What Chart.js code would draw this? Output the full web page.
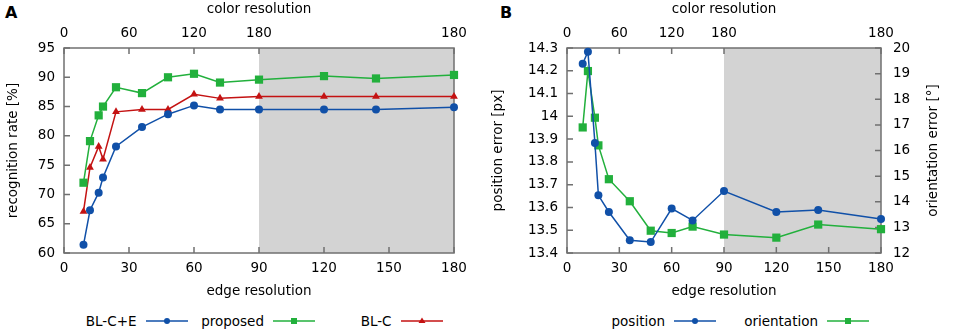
<!DOCTYPE html>
<html>
<head>
<meta charset="utf-8">
<script src="https://cdn.jsdelivr.net/npm/chart.js@4/dist/chart.umd.min.js"></script>
<style>
  body { margin: 0; background: #fff; font-family: 'DejaVu Sans', sans-serif; }
  #page { position: relative; width: 965px; height: 335px; overflow: hidden; }
  .panel { position: absolute; top: 0; }
  .tag { position: absolute; font-weight: bold; font-size: 16px; }
  .legend { position: absolute; top: 313px; display: flex; font-size: 13.5px; }
  .legend .item { display: flex; align-items: center; }
  .legend .txt { text-align: right; flex: 1; padding-right: 9px; }
</style>
</head>
<body>
<div id="page">
  <div class="tag" style="left:5px;top:3px">A</div>
  <div class="tag" style="left:500px;top:3px">B</div>
  <canvas class="panel" id="chartA" width="480" height="300" style="left:0"></canvas>
  <canvas class="panel" id="chartB" width="485" height="300" style="left:480px"></canvas>
  <div class="legend" id="legendA" style="left:60px"></div>
  <div class="legend" id="legendB" style="left:563px"></div>
</div>
<script>
// x waarden (edge resolution) en de bovenste as (color resolution)
const edgeRes = [9, 12, 16, 18, 24, 36, 48, 60, 72, 90, 120, 144, 180];
const colorTickPos = [0, 30, 60, 90, 180];
const colorTickLabels = ['0', '60', '120', '180', '180'];
const shadeRange = [90, 180];

// paneel A: recognition rate [%]
const blCE = [61.4, 67.3, 70.3, 72.9, 78.2, 81.5, 83.7, 85.2, 84.5, 84.5, 84.5, 84.5, 84.9];
const proposed = [72.0, 79.1, 83.5, 85.0, 88.3, 87.3, 90.0, 90.6, 89.1, 89.6, 90.2, 89.8, 90.4];
const blC = [67.1, 74.6, 78.2, 76.0, 84.1, 84.5, 84.5, 87.1, 86.4, 86.7, 86.7, 86.7, 86.7];

// paneel B: position error [px] en orientation error [°]
const positionErr = [14.231, 14.284, 13.883, 13.653, 13.58, 13.456, 13.448, 13.595, 13.543, 13.672, 13.58, 13.589, 13.549];
const orientationErr = [16.9, 19.1, 17.28, 16.2, 14.88, 14.02, 12.87, 12.78, 13.03, 12.72, 12.6, 13.11, 12.93];

const BLUE = '#1050a8', GREEN = '#22b03c', RED = '#c41212';
const FRAME = '#707070';

Chart.defaults.font.family = "'DejaVu Sans', sans-serif";
Chart.defaults.font.size = 13.5;
Chart.defaults.color = '#000';

function pts(values) {
  return edgeRes.map((x, i) => ({ x: x, y: values[i] }));
}

function series(label, values, color, style, radius, axis) {
  return {
    label: label,
    data: pts(values),
    borderColor: color,
    backgroundColor: color,
    borderWidth: 1.5,
    pointStyle: style,
    pointRadius: radius,
    pointHoverRadius: radius,
    pointBorderWidth: 0,
    tension: 0,
    clip: false,
    yAxisID: axis || 'y'
  };
}

// grijs vlak, kader en gnuplot-achtige tickjes naar binnen
const framePlugin = {
  id: 'frame',
  beforeDatasetsDraw(chart) {
    const { ctx, chartArea: a, scales } = chart;
    const x0 = scales.x.getPixelForValue(shadeRange[0]);
    const x1 = scales.x.getPixelForValue(shadeRange[1]);
    ctx.save();
    ctx.fillStyle = '#d3d3d3';
    ctx.fillRect(x0, a.top, x1 - x0, a.bottom - a.top);
    ctx.strokeStyle = FRAME;
    ctx.lineWidth = 1.5;
    ctx.beginPath();
    const len = 6;
    scales.x.ticks.forEach(t => {
      const p = scales.x.getPixelForValue(t.value);
      ctx.moveTo(p, a.bottom); ctx.lineTo(p, a.bottom - len);
    });
    scales.x2.ticks.forEach(t => {
      const p = scales.x2.getPixelForValue(t.value);
      ctx.moveTo(p, a.top); ctx.lineTo(p, a.top + len);
    });
    scales.y.ticks.forEach(t => {
      const p = scales.y.getPixelForValue(t.value);
      ctx.moveTo(a.left, p); ctx.lineTo(a.left + len, p);
    });
    if (scales.y2) {
      scales.y2.ticks.forEach(t => {
        const p = scales.y2.getPixelForValue(t.value);
        ctx.moveTo(a.right, p); ctx.lineTo(a.right - len, p);
      });
    }
    ctx.stroke();
    ctx.strokeRect(a.left, a.top, a.right - a.left, a.bottom - a.top);
    ctx.restore();
  },
  afterDraw(chart, args, opts) {
    if (!opts.rightTitle) return;
    const { ctx, chartArea: a } = chart;
    ctx.save();
    ctx.font = "13.5px 'DejaVu Sans', sans-serif";
    ctx.fillStyle = '#000';
    ctx.textAlign = 'center';
    ctx.textBaseline = 'middle';
    ctx.translate(chart.width - 32, (a.top + a.bottom) / 2);
    ctx.rotate(-Math.PI / 2);
    ctx.fillText(opts.rightTitle, 0, 0);
    ctx.restore();
  }
};

function xScales() {
  return {
    x: {
      type: 'linear', position: 'bottom', min: 0, max: 180,
      grid: { display: false, drawTicks: false }, border: { display: false },
      ticks: { stepSize: 30, padding: 7, autoSkip: false, maxRotation: 0 },
      title: { display: true, text: 'edge resolution', padding: { top: 3, bottom: 0 } },
      afterFit: s => { s.height = 47; s.paddingLeft = 0; s.paddingRight = 0; }
    },
    x2: {
      type: 'linear', position: 'top', min: 0, max: 180,
      grid: { display: false, drawTicks: false }, border: { display: false },
      afterBuildTicks: s => { s.ticks = colorTickPos.map(v => ({ value: v })); },
      ticks: { padding: 6, autoSkip: false, maxRotation: 0, callback: (v, i) => colorTickLabels[i] },
      title: { display: true, text: 'color resolution', padding: { top: 1, bottom: 0 } },
      afterFit: s => { s.height = 48; s.paddingLeft = 0; s.paddingRight = 0; }
    }
  };
}

const chartA = new Chart(document.getElementById('chartA'), {
  type: 'line',
  data: {
    datasets: [
      series('BL-C+E', blCE, BLUE, 'circle', 4),
      series('proposed', proposed, GREEN, 'rect', 5.8),
      series('BL-C', blC, RED, 'triangle', 4.5)
    ]
  },
  options: {
    responsive: false,
    animation: false,
    layout: { padding: { left: 0, right: 26, top: 0, bottom: 0 } },
    plugins: { legend: { display: false }, tooltip: { enabled: false } },
    scales: Object.assign(xScales(), {
      y: {
        min: 60, max: 95,
        grid: { display: false, drawTicks: false }, border: { display: false },
        ticks: { stepSize: 5, padding: 9 },
        title: { display: true, text: 'recognition rate [%]', padding: { top: 5, bottom: 0 } },
        afterFit: s => { s.width = 64; }
      }
    })
  },
  plugins: [framePlugin]
});

const chartB = new Chart(document.getElementById('chartB'), {
  type: 'line',
  data: {
    datasets: [
      series('position', positionErr, BLUE, 'circle', 4),
      series('orientation', orientationErr, GREEN, 'rect', 5.8, 'y2')
    ]
  },
  options: {
    responsive: false,
    animation: false,
    layout: { padding: 0 },
    plugins: {
      legend: { display: false }, tooltip: { enabled: false },
      frame: { rightTitle: 'orientation error [°]' }
    },
    scales: Object.assign(xScales(), {
      y: {
        min: 13.4, max: 14.3,
        grid: { display: false, drawTicks: false }, border: { display: false },
        ticks: { stepSize: 0.1, padding: 9, callback: v => String(Math.round(v * 10) / 10) },
        title: { display: true, text: 'position error [px]', padding: { top: 10, bottom: 0 } },
        afterFit: s => { s.width = 87; }
      },
      y2: {
        position: 'right', min: 12, max: 20,
        grid: { display: false, drawTicks: false }, border: { display: false },
        ticks: { stepSize: 1, padding: 12 },
        afterFit: s => { s.width = 84; }
      }
    })
  },
  plugins: [framePlugin]
});

// legenda zoals gnuplot: tekst rechts uitgelijnd, dan lijnstuk met marker
function markerSvg(color, style) {
  let m = '';
  if (style === 'circle') m = `<circle cx="21" cy="6" r="3" fill="${color}"/>`;
  if (style === 'rect') m = `<rect x="18" y="3" width="6" height="6" fill="${color}"/>`;
  if (style === 'triangle') m = `<polygon points="21,2.5 24.5,8 17.5,8" fill="${color}"/>`;
  return `<svg width="42" height="12"><line x1="0" y1="6" x2="42" y2="6" stroke="${color}" stroke-width="1.5"/>${m}</svg>`;
}

function buildLegend(id, chart, colWidth) {
  const el = document.getElementById(id);
  chart.data.datasets.forEach(ds => {
    const item = document.createElement('div');
    item.className = 'item';
    item.style.width = colWidth + 'px';
    item.innerHTML = `<span class="txt">${ds.label}</span>` + markerSvg(ds.borderColor, ds.pointStyle);
    el.appendChild(item);
  });
}

buildLegend('legendA', chartA, 127.5);
buildLegend('legendB', chartB, 153);
</script>
</body>
</html>
